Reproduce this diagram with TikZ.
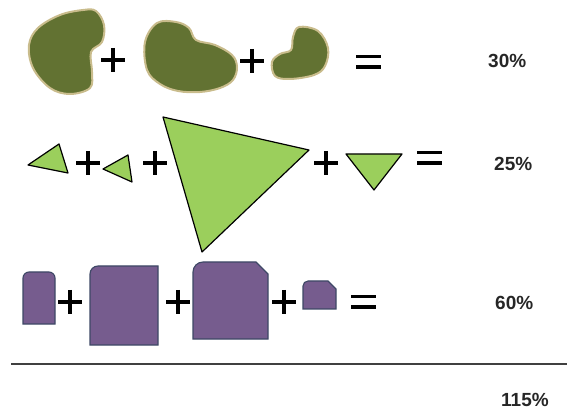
\documentclass[tikz,border=0pt]{standalone}
\usepackage{fontspec}
\setmainfont{Liberation Sans}
\usepackage{tikz}
\definecolor{blobgreen}{HTML}{627232}
\definecolor{blobedge}{HTML}{C9BC8C}
\definecolor{trigreen}{HTML}{9BCF5C}
\definecolor{slabpurple}{HTML}{765C8E}
\definecolor{slabedge}{HTML}{3E4866}

\begin{document}
\begin{tikzpicture}[x=1pt,y=-1pt,
  blob/.style={fill=blobgreen,draw=blobedge,line width=2pt},
  tri/.style={fill=trigreen,draw=black,line width=1.2pt,line join=round},
  slab/.style={fill=slabpurple,draw=slabedge,line width=1.1pt},
  opline/.style={line width=3.6pt,black},
  pct/.style={anchor=base west,inner sep=0pt,text=black!85,
    font=\fontsize{19}{21}\selectfont\bfseries}]
\useasboundingbox (0,0) rectangle (567,411);
% row 1: blobs
\draw[blob] plot[smooth cycle,tension=0.6] coordinates {(83,10) (96,11) (104,25) (102,42) (91,52) (92,72) (90,88) (70,94) (50,88) (33,68) (29,45) (38,28) (60,15)};
\draw[blob] plot[smooth cycle,tension=0.6] coordinates {(157,23) (176,22) (189,28) (196,40) (215,45) (232,55) (237,67) (233,80) (220,88) (200,92) (178,91) (160,84) (147,70) (145,42)};
\draw[blob] plot[smooth cycle,tension=0.6] coordinates {(299,27) (318,31) (328,48) (325,66) (314,75) (290,79) (275,76) (272,62) (280,54) (291,50) (293,37)};
% row 2: triangles
\draw[tri] (28,165) -- (59,144) -- (68,173) -- cycle;
\draw[tri] (103,169) -- (128,155) -- (132,182) -- cycle;
\draw[tri] (163,117) -- (309,150) -- (202,252) -- cycle;
\draw[tri] (346,154) -- (402,154) -- (374,190) -- cycle;
% row 3: slabs
\draw[slab] (23,324) [rounded corners=6pt] -- (23,272) -- (55,272) [sharp corners] -- (55,324) -- cycle;
\draw[slab] (158,345) -- (90,345) [rounded corners=8pt] -- (90,266) [sharp corners] -- (158,266) -- cycle;
\draw[slab] (268,339) -- (193,339) [rounded corners=10pt] -- (193,262) [sharp corners] -- (256,262) -- (268,274) -- cycle;
\draw[slab] (336,309) -- (303,309) [rounded corners=5pt] -- (303,281) [sharp corners] -- (328,281) -- (336,289) -- cycle;
% operators
\foreach \px/\py in {113/60, 252/61, 88/163, 155/163, 326/163, 70/302, 178/302, 284/302}
  \draw[opline] (\px-12,\py) -- (\px+12,\py) (\px,\py-12) -- (\px,\py+12);
\foreach \ex/\ey in {356/56.5, 417/152.5, 351/296.5}
  \draw[opline] (\ex,\ey) -- ++(25,0) (\ex,\ey+10.5) -- ++(25,0);
% sums
\node[pct] (p30) at (488,68) {30\%};
\node[pct] (p25) at (494,171) {25\%};
\node[pct] (p60) at (495,309) {60\%};
\draw[line width=2.8pt,black!75] (11,364) -- (567,364);
\node[pct] (p115) at (501,406.5) {115\%};
\end{tikzpicture}
\end{document}
